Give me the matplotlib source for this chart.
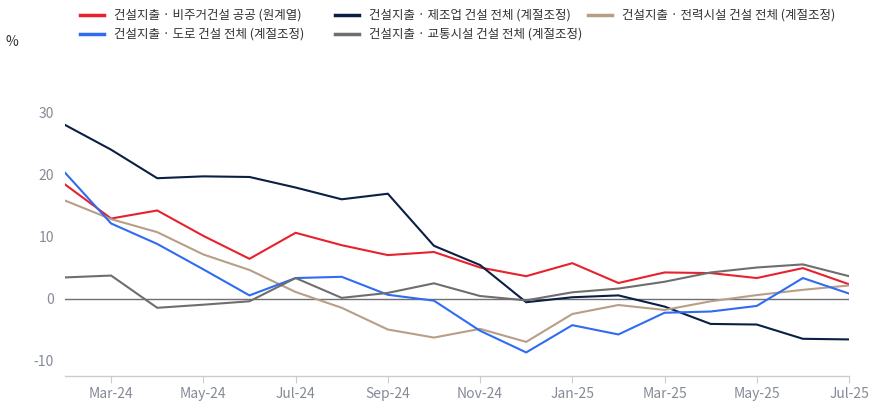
import matplotlib
matplotlib.use("Agg")
import matplotlib.pyplot as plt
from matplotlib.lines import Line2D
import numpy as np

plt.rcParams['font.family'] = ['Noto Sans CJK KR', 'DejaVu Sans']

months = ["Feb-24", "Mar-24", "Apr-24", "May-24", "Jun-24", "Jul-24", "Aug-24", "Sep-24",
          "Oct-24", "Nov-24", "Dec-24", "Jan-25", "Feb-25", "Mar-25", "Apr-25", "May-25",
          "Jun-25", "Jul-25"]

red_vals = [18.4, 12.9, 14.2, 10.1, 6.4, 10.6, 8.6, 7.0, 7.5, 5.0, 3.6, 5.7, 2.5, 4.2, 4.1, 3.3, 4.9, 2.3]
navy_vals = [28.0, 24.0, 19.4, 19.7, 19.6, 17.9, 16.0, 16.9, 8.5, 5.4, -0.6, 0.2, 0.5, -1.3, -4.1, -4.2, -6.5, -6.6]
tan_vals = [15.8, 12.8, 10.7, 7.1, 4.6, 1.05, -1.5, -5.0, -6.3, -4.9, -7.0, -2.5, -1.05, -1.85, -0.45, 0.55, 1.4, 2.1]
blue_vals = [20.3, 12.1, 8.8, 4.7, 0.5, 3.3, 3.5, 0.6, -0.35, -5.2, -8.7, -4.3, -5.8, -2.3, -2.1, -1.2, 3.3, 0.8]
gray_vals = [3.4, 3.7, -1.5, -1.0, -0.45, 3.3, 0.1, 0.9, 2.45, 0.4, -0.3, 1.0, 1.6, 2.7, 4.2, 5.0, 5.5, 3.6]

series_names = ["건설지출 · 비주거건설 공공 (원계열)",
                "건설지출 · 제조업 건설 전체 (계절조정)",
                "건설지출 · 전력시설 건설 전체 (계절조정)",
                "건설지출 · 도로 건설 전체 (계절조정)",
                "건설지출 · 교통시설 건설 전체 (계절조정)"]
series_vals = [red_vals, navy_vals, tan_vals, blue_vals, gray_vals]
colors = ["#e8212e", "#0b1f45", "#b79f87", "#2f6cf2", "#6e6e6e"]

yticks = [-10, 0, 10, 20, 30]

W, H = 881, 409
fig = plt.figure(figsize=(W / 100, H / 100), dpi=100)
ax = fig.add_axes([65 / W, (H - 376) / H, (849 - 65) / W, (376 - 81.5) / H])

x = np.arange(len(months))
ax.axhline(0, color="#707070", lw=1.0, zorder=1)
for vals, c in zip(series_vals, colors):
    ax.plot(x, vals, color=c, lw=1.5, zorder=3, solid_joinstyle="miter")

ax.set_xlim(0, len(months) - 1)
ax.set_ylim(-12.5, 35)
ax.set_yticks(yticks)
ax.set_yticklabels([str(v) for v in yticks])
ax.set_xticks(x[1::2])
ax.set_xticklabels(months[1::2])

for s in ["top", "right", "left"]:
    ax.spines[s].set_visible(False)
ax.spines["bottom"].set_color("#cccccc")
ax.spines["bottom"].set_linewidth(1.0)
ax.tick_params(axis="y", length=0, labelsize=10, labelcolor="#858a96", pad=8)
ax.tick_params(axis="x", length=5, color="#cccccc", labelsize=10, labelcolor="#858a96", pad=3)
for lab in ax.get_yticklabels():
    lab.set_horizontalalignment("right")

fig.text(6 / W, 1 - 42 / H, "%", fontsize=10, color="#333333", va="center", ha="left")

# legend (manual placement)
pos = [(80, 15), (335, 15), (588, 15), (80, 34), (335, 34)]
for (px, py), name, c in zip(pos, series_names, colors):
    fig.add_artist(Line2D([px / W, (px + 24) / W], [1 - py / H, 1 - py / H],
                          color=c, lw=2.5, transform=fig.transFigure))
    fig.text((px + 34) / W, 1 - py / H, name, fontsize=9, color="#333333",
             va="center", ha="left")

fig.savefig("out.png", dpi=100)
